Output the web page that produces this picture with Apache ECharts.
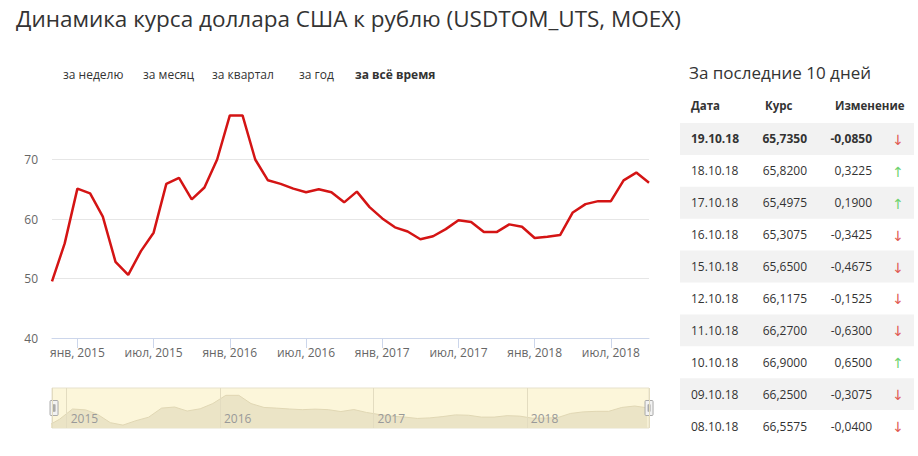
<!DOCTYPE html>
<html>
<head>
<meta charset="utf-8">
<script src="https://cdn.jsdelivr.net/npm/echarts@6/dist/echarts.min.js"></script>
<style>
html,body{margin:0;padding:0;background:#fff;}
#chart{width:918px;height:456px;}
</style>
</head>
<body>
<div id="chart"></div>
<script>
// ---- data ----
const months = ['2014-11','2014-12',
  '2015-01','2015-02','2015-03','2015-04','2015-05','2015-06','2015-07','2015-08','2015-09','2015-10','2015-11','2015-12',
  '2016-01','2016-02','2016-03','2016-04','2016-05','2016-06','2016-07','2016-08','2016-09','2016-10','2016-11','2016-12',
  '2017-01','2017-02','2017-03','2017-04','2017-05','2017-06','2017-07','2017-08','2017-09','2017-10','2017-11','2017-12',
  '2018-01','2018-02','2018-03','2018-04','2018-05','2018-06','2018-07','2018-08','2018-09','2018-10'];
const usdRub = [49.5, 55.9,
  65.1, 64.3, 60.4, 52.8, 50.6, 54.6, 57.7, 65.9, 66.9, 63.3, 65.3, 70.0,
  77.4, 77.4, 70.0, 66.5, 65.9, 65.1, 64.5, 65.0, 64.5, 62.8, 64.6, 62.0,
  60.1, 58.6, 57.9, 56.6, 57.1, 58.3, 59.8, 59.5, 57.8, 57.8, 59.1, 58.7,
  56.8, 57.0, 57.3, 61.1, 62.5, 63.0, 63.0, 66.5, 67.8, 66.1];
const monthNames = ['янв','фев','мар','апр','май','июн','июл','авг','сен','окт','ноя','дек'];
const yTicks = [40, 50, 60, 70];
const navRange = ['2014-11-27', '2018-10-19'];

const periodButtons = ['за неделю', 'за месяц', 'за квартал', 'за год', 'за всё время'];
const tableTitle = 'За последние 10 дней';
const tableHeaders = ['Дата', 'Курс', 'Изменение'];
const tableDates = ['19.10.18','18.10.18','17.10.18','16.10.18','15.10.18','12.10.18','11.10.18','10.10.18','09.10.18','08.10.18'];
const tableRates = [65.7350, 65.8200, 65.4975, 65.3075, 65.6500, 66.1175, 66.2700, 66.9000, 66.2500, 66.5575];
const tableChanges = [-0.0850, 0.3225, 0.1900, -0.3425, -0.4675, -0.1525, -0.6300, 0.6500, -0.3075, -0.0400];

// ---- layout / style ----
const FONT = '"Open Sans", "Noto Sans", sans-serif';
const fmt = v => v.toFixed(4).replace('.', ',');
const isHalfYear = (i, v) => { const m = v.split('-')[1]; return m === '01' || m === '07'; };

const graphics = [];
const btnX = [63, 143, 212, 299, 355];
periodButtons.forEach((t, i) => {
  graphics.push({type:'text', left: btnX[i], top: 68, silent:true,
    style:{text:t, fill:'#333', font:(i === periodButtons.length-1 ? 'bold ' : '') + '12px ' + FONT}});
});
graphics.push({type:'text', left: 689, top: 64, silent:true,
  style:{text:tableTitle, fill:'#333', font:'17px ' + FONT}});
const headX = [691, 765, 835];
tableHeaders.forEach((t, i) => {
  graphics.push({type:'text', left: headX[i], top: 99, silent:true,
    style:{text:t, fill:'#333', font:'bold 11.5px ' + FONT}});
});
const rowTop = 123, rowH = 31.9;
tableDates.forEach((d, i) => {
  const yc = rowTop + rowH * i + rowH / 2;
  if (i % 2 === 0) {
    graphics.push({type:'rect', silent:true, z:-1,
      shape:{x:680, y:rowTop + rowH * i, width:234, height:rowH},
      style:{fill:'#f2f2f2'}});
  }
  const w = i === 0 ? 'bold ' : '';
  graphics.push({type:'text', silent:true, style:{text:d, x:691, y:yc, align:'left', verticalAlign:'middle', fill:'#333', font:w + '12px ' + FONT}});
  graphics.push({type:'text', silent:true, style:{text:fmt(tableRates[i]), x:807, y:yc, align:'right', verticalAlign:'middle', fill:'#333', font:w + '12px ' + FONT}});
  graphics.push({type:'text', silent:true, style:{text:fmt(tableChanges[i]), x:872, y:yc, align:'right', verticalAlign:'middle', fill:'#333', font:w + '12px ' + FONT}});
  const up = tableChanges[i] > 0;
  graphics.push({type:'text', silent:true, style:{text: up ? '↑' : '↓', x:898, y:yc + 1, align:'center', verticalAlign:'middle', fill: up ? '#6fd36f' : '#e05a52', font:'14px "DejaVu Sans", sans-serif'}});
});

const chart = echarts.init(document.getElementById('chart'), null, {renderer:'svg'});
chart.setOption({
  animation: false,
  backgroundColor: '#fff',
  title: {
    text: 'Динамика курса доллара США к рублю (USDTOM_UTS, MOEX)',
    left: 11, top: 2,
    textStyle: {fontSize: 22.5, fontWeight: 'normal', color: '#333', fontFamily: FONT}
  },
  grid: [
    {left: 52, right: 269, top: 100, bottom: 118},
    {left: 52, right: 269, top: 388, height: 40, show: true, backgroundColor: '#fcf6da', borderColor: '#e6e1cc', borderWidth: 1}
  ],
  xAxis: [
    {type: 'category', gridIndex: 0, data: months, boundaryGap: false,
     axisLine: {lineStyle: {color: '#ccd6eb'}},
     axisTick: {show: true, length: 10, interval: isHalfYear, lineStyle: {color: '#ccd6eb'}},
     axisLabel: {interval: isHalfYear, margin: 8, color: '#666', fontSize: 12, fontFamily: FONT,
       formatter: v => { const p = v.split('-'); return monthNames[+p[1]-1] + ', ' + p[0]; }},
     splitLine: {show: false}},
    {type: 'time', gridIndex: 1, min: navRange[0], max: navRange[1], z: 5,
     minInterval: 365 * 86400000, maxInterval: 366 * 86400000,
     axisLine: {show: false}, axisTick: {show: false},
     splitLine: {show: true, lineStyle: {color: '#e3dcc0', width: 1}},
     axisLabel: {inside: true, margin: 4, color: '#999', fontSize: 12, fontFamily: FONT, align: 'left',
       padding: [0, 0, 0, 4], verticalAlign: 'bottom',
       formatter: v => { const d = new Date(v); return (d.getMonth() === 0 && d.getDate() === 1) ? String(d.getFullYear()) : ''; }}}
  ],
  yAxis: [
    {type: 'value', gridIndex: 0, min: yTicks[0], max: 80, interval: 10,
     axisLine: {show: false}, axisTick: {show: false},
     axisLabel: {color: '#666', fontSize: 12, fontFamily: FONT, margin: 14, showMaxLabel: false},
     splitLine: {show: true, showMaxLine: false, showMinLine: false, lineStyle: {color: '#e6e6e6'}}},
    {type: 'value', gridIndex: 1, min: 48, max: 84, show: false}
  ],
  dataZoom: [{
    type: 'slider', xAxisIndex: 0, left: 52, right: 269, top: 388, height: 40,
    start: 0, end: 100, showDataShadow: false, showDetail: false, brushSelect: false,
    moveHandleSize: 0, zoomLock: true,
    backgroundColor: 'rgba(0,0,0,0)', borderColor: 'rgba(0,0,0,0)', fillerColor: 'rgba(0,0,0,0)',
    handleIcon: 'path://M1,0h6a1,1,0,0,1,1,1v13a1,1,0,0,1,-1,1h-6a1,1,0,0,1,-1,-1v-13a1,1,0,0,1,1,-1zM3,4h0.5v7h-0.5zM4.5,4h0.5v7h-0.5z',
    handleSize: 15,
    handleStyle: {color: '#f2f2f2', borderColor: '#aaaaaa', borderWidth: 1},
    emphasis: {handleStyle: {color: '#f2f2f2', borderColor: '#aaaaaa'}}
  }],
  series: [
    {type: 'line', xAxisIndex: 0, yAxisIndex: 0, data: usdRub, symbol: 'none', smooth: false,
     lineStyle: {color: '#d41414', width: 2.5}, silent: true},
    {type: 'line', xAxisIndex: 1, yAxisIndex: 1, symbol: 'none', silent: true, z: 1,
     data: months.map((m, i) => [m + '-15', usdRub[i]]),
     lineStyle: {color: '#e0d7b4', width: 1}, areaStyle: {color: '#ebe4c6', opacity: 1}}
  ],
  graphic: graphics
});
</script>
</body>
</html>
